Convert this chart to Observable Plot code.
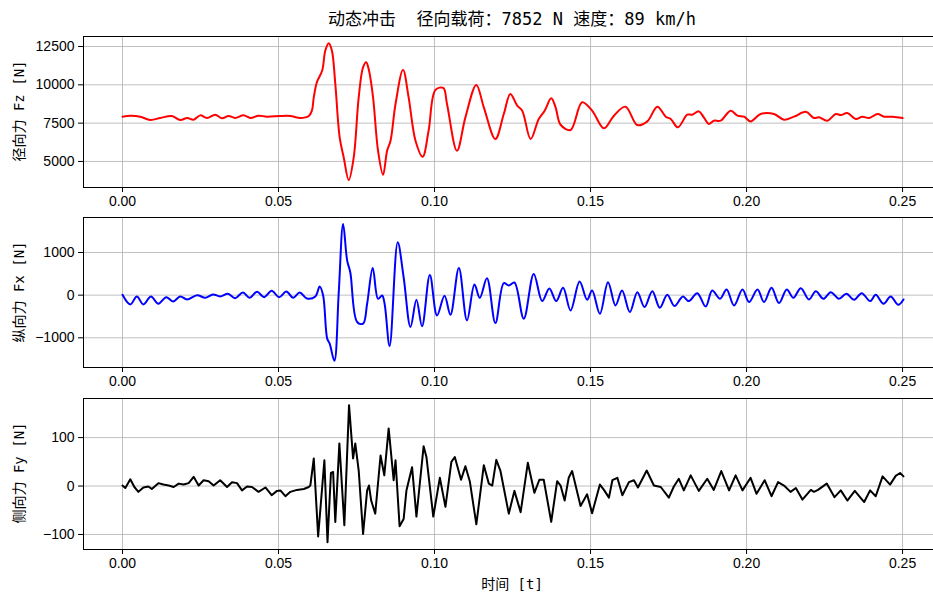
<!DOCTYPE html>
<html>
<head>
<meta charset="utf-8">
<script src="https://cdn.jsdelivr.net/npm/d3@7"></script>
<script src="https://cdn.jsdelivr.net/npm/@observablehq/plot@0.6"></script>
<style>
  html, body { margin: 0; padding: 0; background: white; }
  #wrap { position: relative; width: 933px; height: 594px; overflow: hidden; background: white; }
  .panel { position: absolute; left: 0; top: 0; width: 945px; }
  .panel svg { max-width: none !important; }
  .cjk { font-family: "DejaVu Sans Mono", "Noto Sans CJK SC", sans-serif; color: #000; position: absolute; white-space: pre; }
  #title { top: 17px; left: 512px; font-size: 17px; transform: translate(-50%, -50%); }
  .ylab { font-size: 14px; transform: translate(-50%, -50%) rotate(-90deg); }
  #xlab { font-size: 14px; left: 512px; top: 583px; transform: translate(-50%, -50%); }
</style>
</head>
<body>
<div id="wrap">
  <div id="title" class="cjk">动态冲击  径向载荷：7852 N 速度：89 km/h</div>
  <div id="p1" class="panel"></div>
  <div id="p2" class="panel"></div>
  <div id="p3" class="panel"></div>
  <div class="cjk ylab" style="left:18px;top:111px;">径向力 Fz [N]</div>
  <div class="cjk ylab" style="left:18px;top:292px;">纵向力 Fx [N]</div>
  <div class="cjk ylab" style="left:18px;top:473px;">侧向力 Fy [N]</div>
  <div id="xlab" class="cjk">时间 [t]</div>
</div>
<script>
// ---- data (time in s, forces in N) ----
const xTicks = [0, 0.05, 0.10, 0.15, 0.20, 0.25];

const fzTicks = [5000, 7500, 10000, 12500];
const fzT = [0.0000,0.0025,0.0057,0.0089,0.0121,0.0158,0.0185,0.0207,0.0228,0.0249,0.0271,0.0297,0.0319,0.0340,0.0361,0.0388,0.0410,0.0436,0.0463,0.0506,0.0538,0.0570,0.0597,0.0607,0.0613,0.0623,0.0640,0.0650,0.0661,0.0671,0.0682,0.0696,0.0709,0.0725,0.0741,0.0757,0.0771,0.0781,0.0790,0.0803,0.0819,0.0835,0.0848,
  0.0859,0.0875,0.0899,0.0917,0.0939,0.0962,0.0981,0.1003,0.1028,0.1040,0.1072,0.1099,0.1134,0.1158,0.1195,0.1222,0.1243,0.1265,0.1281,0.1308,0.1334,0.1353,0.1374,0.1388,0.1404,0.1436,0.1473,0.1505,0.1543,0.1575,0.1612,0.1650,0.1682,0.1714,0.1741,0.1757,0.1780,
  0.1810,0.1826,0.1847,0.1863,0.1879,0.1895,0.1917,0.1949,0.1971,0.1992,0.2013,0.2045,0.2088,0.2120,0.2152,0.2190,0.2216,0.2232,0.2259,0.2286,0.2302,0.2323,0.2350,0.2371,0.2393,0.2420,0.2441,0.2468,0.2500];
const fzV = [7922,7987,7922,7706,7837,7966,7706,7837,7726,8007,7837,8053,7815,7966,7837,8007,7837,7987,7922,7966,7966,7837,7966,8314,9185,10165,10930,12238,12718,12238,10060,6570,5260,3780,5260,9185,11147,11473,10930,9185,5698,4130,5698,
  6352,8752,10976,9185,6352,5306,7006,9668,9800,8752,5698,7876,9995,8530,6464,8098,9406,8641,8314,6464,7772,8314,9118,8530,7395,7052,8860,8314,7160,7987,8576,7374,7614,8576,7922,7772,7226,
  8053,8053,8269,7876,7444,7660,7660,8314,7987,7922,7614,8098,8098,7726,7922,8236,7837,7878,7660,8098,8029,8160,7770,7922,7837,8098,7922,7922,7837];

const fxTicks = [-1000, 0, 1000];
const fxT = [0.0000,0.0025,0.0046,0.0067,0.0091,0.0115,0.0140,0.0162,0.0185,0.0207,0.0239,0.0265,0.0290,0.0313,0.0338,0.0361,0.0386,0.0407,0.0431,0.0454,0.0478,0.0502,0.0525,0.0547,0.0568,0.0591,0.0618,0.0632,0.0643,0.0656,0.0664,0.0679,0.0693,0.0707,0.0720,0.0730,0.0752,0.0771,0.0784,0.0802,0.0819,0.0832,0.0840,0.0856,
  0.0882,0.0901,0.0923,0.0942,0.0960,0.0985,0.1008,0.1032,0.1051,0.1078,0.1104,0.1128,0.1145,0.1168,0.1195,0.1222,0.1238,0.1256,0.1286,0.1318,0.1345,0.1368,0.1390,0.1412,0.1436,0.1465,0.1489,0.1505,0.1530,0.1556,0.1580,0.1601,0.1626,0.1650,0.1673,0.1698,0.1722,0.1746,0.1769,0.1796,
  0.1815,0.1842,0.1869,0.1890,0.1915,0.1936,0.1960,0.1987,0.2008,0.2035,0.2056,0.2080,0.2104,0.2129,0.2150,0.2174,0.2200,0.2222,0.2246,0.2270,0.2296,0.2320,0.2345,0.2369,0.2396,0.2414,0.2439,0.2462,0.2486,0.2503];
const fxV = [8,-218,-31,-218,-31,-202,-47,-148,-31,-101,0,-62,16,-31,31,-70,62,-62,78,-47,101,-47,86,-62,62,-78,-31,202,-8,-1019,-1136,-1540,60,1665,809,537,-630,-669,-202,638,-86,-8,-202,-1190,
  1237,420,-747,-109,-731,475,-475,-16,-459,638,-591,249,-62,397,-654,280,226,296,-552,498,-140,156,-140,171,-358,319,-109,109,-436,303,-241,109,-397,70,-280,93,-296,8,-257,-31,
  -140,47,-265,109,-86,132,-241,132,-163,132,-163,171,-187,132,-62,163,-101,93,-86,70,-86,31,-109,47,-140,8,-202,-31,-226,-101];

const fyTicks = [-100, 0, 100];
const fyT = [0.0000,0.0009,0.0025,0.0038,0.0051,0.0067,0.0083,0.0094,0.0115,0.0131,0.0148,0.0164,0.0180,0.0196,0.0212,0.0228,0.0244,0.0260,0.0276,0.0292,0.0313,0.0335,0.0351,0.0367,0.0383,0.0399,0.0415,0.0436,0.0458,0.0478,0.0495,0.0506,0.0522,0.0538,0.0559,0.0581,0.0597,0.0602,0.0613,0.0627,0.0647,0.0657,0.0668,0.0675,0.0682,0.0695,0.0711,0.0726,0.0739,0.0746,0.0757,0.0771,0.0784,0.0790,0.0797,0.0810,0.0827,0.0839,0.0853,
  0.0869,0.0875,0.0888,0.0901,0.0910,0.0928,0.0942,0.0965,0.0974,0.0996,0.1017,0.1035,0.1054,0.1065,0.1085,0.1099,0.1113,0.1134,0.1158,0.1174,0.1185,0.1198,0.1211,0.1238,0.1256,0.1276,0.1299,0.1320,0.1336,0.1350,0.1374,0.1393,0.1404,0.1417,0.1430,0.1441,0.1468,0.1489,0.1505,0.1530,0.1543,0.1559,0.1570,0.1586,0.1602,0.1623,0.1639,0.1652,0.1680,0.1703,0.1725,0.1751,0.1767,0.1783,0.1799,0.1821,
  0.1847,0.1874,0.1895,0.1919,0.1944,0.1965,0.1987,0.2013,0.2032,0.2058,0.2080,0.2101,0.2120,0.2141,0.2158,0.2179,0.2206,0.2216,0.2229,0.2257,0.2282,0.2302,0.2323,0.2347,0.2377,0.2396,0.2414,0.2436,0.2460,0.2478,0.2492,0.2503];
const fyV = [1,-4,14,-2,-12,-3,-1,-6,6,3,1,-2,5,3,6,19,1,12,10,1,12,-2,8,6,-9,-1,-2,-12,-3,-19,-10,-9,-21,-12,-8,-6,-2,1,57,-104,53,-116,27,29,-74,88,-81,167,57,88,32,-99,-9,1,-30,-57,63,22,119,
  12,53,-83,-68,-9,39,-63,82,60,-63,17,-43,50,60,13,41,10,-79,43,5,1,54,32,-57,-10,-54,48,-14,13,13,-74,10,1,-30,17,31,-41,-17,-56,3,-8,-24,12,17,-19,8,12,-3,32,1,-2,-24,-1,15,-9,22,
  -10,15,-8,31,-9,22,-9,17,-16,12,-21,8,1,-12,-4,-28,-8,-12,-8,5,-23,-9,-30,-10,-33,-9,-21,20,3,21,27,20];

// ---- drawing ----
const tickFont = '"Liberation Sans", Arial, sans-serif';
const W = 945, ML = 83, MR = 3;
const xDomain = [-0.0125, 0.2628];

function panel(el, top, frameH, ts, vs, yDomain, yTicks, color, curve, mb) {
  const data = ts.map((t, i) => ({t, v: vs[i]}));
  const mt = 6;
  const chart = Plot.plot({
    width: W, height: mt + frameH + mb,
    marginLeft: ML, marginRight: MR, marginTop: mt, marginBottom: mb,
    style: {fontFamily: tickFont, fontSize: "14px", color: "black", background: "transparent", overflow: "visible", maxWidth: "none"},
    x: {domain: xDomain},
    y: {domain: yDomain},
    marks: [
      Plot.gridX(xTicks, {stroke: "#b0b0b0", strokeOpacity: 1, strokeWidth: 0.8}),
      Plot.gridY(yTicks, {stroke: "#b0b0b0", strokeOpacity: 1, strokeWidth: 0.8}),
      Plot.line(data, {x: "t", y: "v", stroke: color, strokeWidth: 2, curve}),
      Plot.frame({stroke: "black", strokeWidth: 1}),
      Plot.axisX(xTicks, {tickFormat: d3.format(".2f"), tickSize: 5, tickPadding: 4, label: null, fontSize: 14}),
      Plot.axisY(yTicks, {tickFormat: d3.format("d"), tickSize: 5, tickPadding: 4, label: null, fontSize: 14})
    ]
  });
  chart.style.maxWidth = "none";
  chart.setAttribute("width", W);
  const host = document.getElementById(el);
  host.style.top = (top - mt) + "px";
  host.appendChild(chart);
}

panel("p1", 36, 151, fzT, fzV, [3300, 13154], fzTicks, "#ff0000", "catmull-rom", 28);
panel("p2", 217, 150, fxT, fxV, [-1696, 1820], fxTicks, "#0000ff", "catmull-rom", 28);
panel("p3", 398, 151, fyT, fyV, [-131, 180.7], fyTicks, "#000000", "linear", 28);
</script>
</body>
</html>
